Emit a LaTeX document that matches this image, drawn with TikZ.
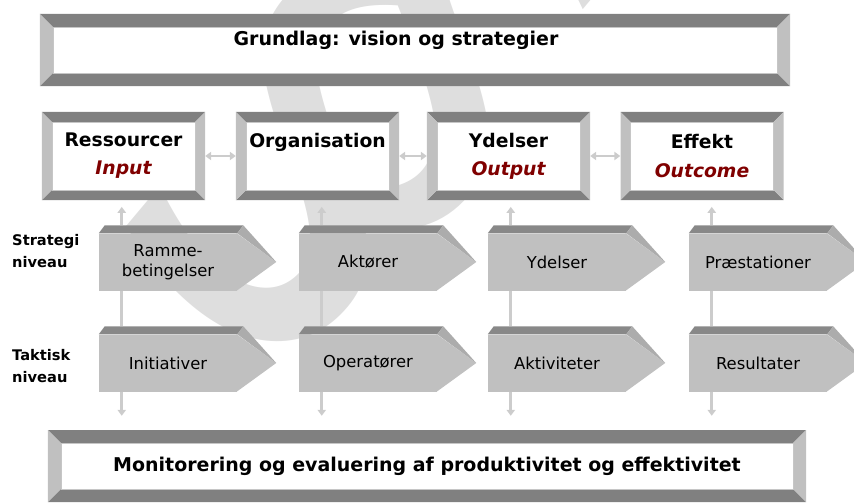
\documentclass[tikz,border=0pt]{standalone}
\usepackage{fontspec}
\setmainfont{DejaVu Sans}
\usetikzlibrary{arrows.meta}

\definecolor{banddark}{RGB}{128,128,128}
\definecolor{bandlight}{RGB}{192,192,192}
\definecolor{facefront}{RGB}{192,192,192}
\definecolor{facetop}{RGB}{136,136,136}
\definecolor{facetip}{RGB}{172,172,172}
\definecolor{linkgray}{RGB}{204,204,204}
\definecolor{wmgray}{RGB}{222,222,222}
\definecolor{outred}{RGB}{128,0,0}

\newcommand{\ppbb}{path picture bounding box}

\tikzset{
  bevelbox/.style={rectangle, fill=white, inner sep=0pt, align=center,
    path picture={
      \fill[banddark] (\ppbb.north west) -- (\ppbb.north east)
        -- ([xshift=-#1,yshift=-#1]\ppbb.north east) -- ([xshift=#1,yshift=-#1]\ppbb.north west) -- cycle;
      \fill[banddark] (\ppbb.south west) -- (\ppbb.south east)
        -- ([xshift=-#1,yshift=#1]\ppbb.south east) -- ([xshift=#1,yshift=#1]\ppbb.south west) -- cycle;
      \fill[bandlight] (\ppbb.north west) -- ([xshift=#1,yshift=-#1]\ppbb.north west)
        -- ([xshift=#1,yshift=#1]\ppbb.south west) -- (\ppbb.south west) -- cycle;
      \fill[bandlight] (\ppbb.north east) -- ([xshift=-#1,yshift=-#1]\ppbb.north east)
        -- ([xshift=-#1,yshift=#1]\ppbb.south east) -- (\ppbb.south east) -- cycle;
      \draw[gray!45, line width=0.5pt] ([xshift=#1,yshift=-#1]\ppbb.north west) rectangle ([xshift=-#1,yshift=#1]\ppbb.south east);
    }},
  bigbox/.style={bevelbox=0.39cm, minimum width=22.5cm, minimum height=2.16cm,
    font=\bfseries\fontsize{16.2}{20}\selectfont},
  smallbox/.style={bevelbox=0.3cm, minimum width=4.89cm, minimum height=2.64cm,
    font=\bfseries\fontsize{16}{24}\selectfont},
  chevbox/.style={rectangle, fill=facefront, minimum width=4.14cm, minimum height=1.71cm,
    inner sep=0pt, align=center, font=\fontsize{14}{17}\selectfont,
    append after command={\pgfextra{
      \fill[facefront] ([xshift=-0.5pt]\tikzlastnode.north east) -- ([xshift=1.17cm]\tikzlastnode.east)
        -- ([xshift=-0.5pt]\tikzlastnode.south east) -- cycle;
      \fill[facetop] (\tikzlastnode.north west) -- ([xshift=0.18cm,yshift=0.24cm]\tikzlastnode.north west)
        -- ([xshift=0.18cm,yshift=0.24cm]\tikzlastnode.north east) -- (\tikzlastnode.north east) -- cycle;
      \fill[facetip] (\tikzlastnode.north east) -- ([xshift=0.18cm,yshift=0.24cm]\tikzlastnode.north east)
        -- ([xshift=1.17cm]\tikzlastnode.east) -- cycle;
    }}},
  lvl/.style={anchor=west, align=left, inner sep=0pt, font=\bfseries\fontsize{12.5}{18}\selectfont},
  wm/.style={text=wmgray, inner sep=0pt, rotate=-40, font=\fontsize{560}{560}\selectfont},
  link/.style={draw=linkgray, line width=2.5pt},
  uplink/.style={link, -{Triangle[length=5pt,width=7pt]}, shorten >=0.2cm},
  downlink/.style={link, -{Triangle[length=5pt,width=7pt]}, shorten >=0.42cm},
  duo/.style={link, {Triangle[length=5pt,width=7pt]}-{Triangle[length=5pt,width=7pt]}}
}

\begin{document}
\begin{tikzpicture}[x=0.03cm, y=-0.03cm]
\useasboundingbox (0,0) rectangle (854,504);
\clip (0,0) rectangle (854,504);

%% watermark
\node[wm] (para) at (375,100) {§};

%% foundation
\node[bigbox] (grund) at (415,50) {\raisebox{4pt}[0pt][0pt]{\makebox[0pt]{Grundlag: vision og strategier\hspace*{1.14cm}}}};

%% chain of boxes
\node[smallbox] (res) at (123.5,156) {Ressourcer\\\textcolor{outred}{\itshape Input}};
\node[smallbox] (org) at (317.5,156) {Organisation\\\phantom{Input}};
\node[smallbox] (yde) at (508.5,156) {Ydelser\\\textcolor{outred}{\itshape Output}};
\node[smallbox] (eff) at (702,156) {Effekt\\\textcolor{outred}{\itshape Outcome}};

\draw[duo] (res.east) -- (org.west);
\draw[duo] (org.east) -- (yde.west);
\draw[duo] (yde.east) -- (eff.west);

%% strategic level
\node[lvl] (strat) at (12,251) {Strategi\\niveau};
\node[chevbox] (ramme) at (168,262) {Ramme-\\betingelser};
\node[chevbox] (aktor) at (368,262) {Aktører};
\node[chevbox] (ydS) at (557,262) {Ydelser};
\node[chevbox] (praes) at (758,262) {Præstationer};

%% tactical level
\node[lvl] (takt) at (12,366) {Taktisk\\niveau};
\node[chevbox] (init) at (168,363) {Initiativer};
\node[chevbox] (oper) at (368,363) {Operatører};
\node[chevbox] (aktiv) at (557,363) {Aktiviteter};
\node[chevbox] (resul) at (758,363) {Resultater};

%% monitoring
\node[bigbox, minimum width=22.74cm] (mon) at (427,466) {Monitorering og evaluering af produktivitet og effektivitet};

%% links up to the boxes
\draw[uplink] ([xshift=0.69cm,yshift=0.24cm]ramme.north west) -- ([xshift=0.69cm]ramme.north west |- res.south);
\draw[uplink] ([xshift=0.69cm,yshift=0.24cm]aktor.north west) -- ([xshift=0.69cm]aktor.north west |- org.south);
\draw[uplink] ([xshift=0.69cm,yshift=0.24cm]ydS.north west) -- ([xshift=0.69cm]ydS.north west |- yde.south);
\draw[uplink] ([xshift=0.69cm,yshift=0.24cm]praes.north west) -- ([xshift=0.69cm]praes.north west |- eff.south);

%% links between levels
\draw[link] ([xshift=0.69cm]ramme.south west) -- ([xshift=0.69cm,yshift=0.24cm]init.north west);
\draw[link] ([xshift=0.69cm]aktor.south west) -- ([xshift=0.69cm,yshift=0.24cm]oper.north west);
\draw[link] ([xshift=0.69cm]ydS.south west) -- ([xshift=0.69cm,yshift=0.24cm]aktiv.north west);
\draw[link] ([xshift=0.69cm]praes.south west) -- ([xshift=0.69cm,yshift=0.24cm]resul.north west);

%% links down to monitoring
\draw[downlink] ([xshift=0.69cm]init.south west) -- ([xshift=0.69cm]init.south west |- mon.north);
\draw[downlink] ([xshift=0.69cm]oper.south west) -- ([xshift=0.69cm]oper.south west |- mon.north);
\draw[downlink] ([xshift=0.69cm]aktiv.south west) -- ([xshift=0.69cm]aktiv.south west |- mon.north);
\draw[downlink] ([xshift=0.69cm]resul.south west) -- ([xshift=0.69cm]resul.south west |- mon.north);

\end{tikzpicture}
\end{document}
